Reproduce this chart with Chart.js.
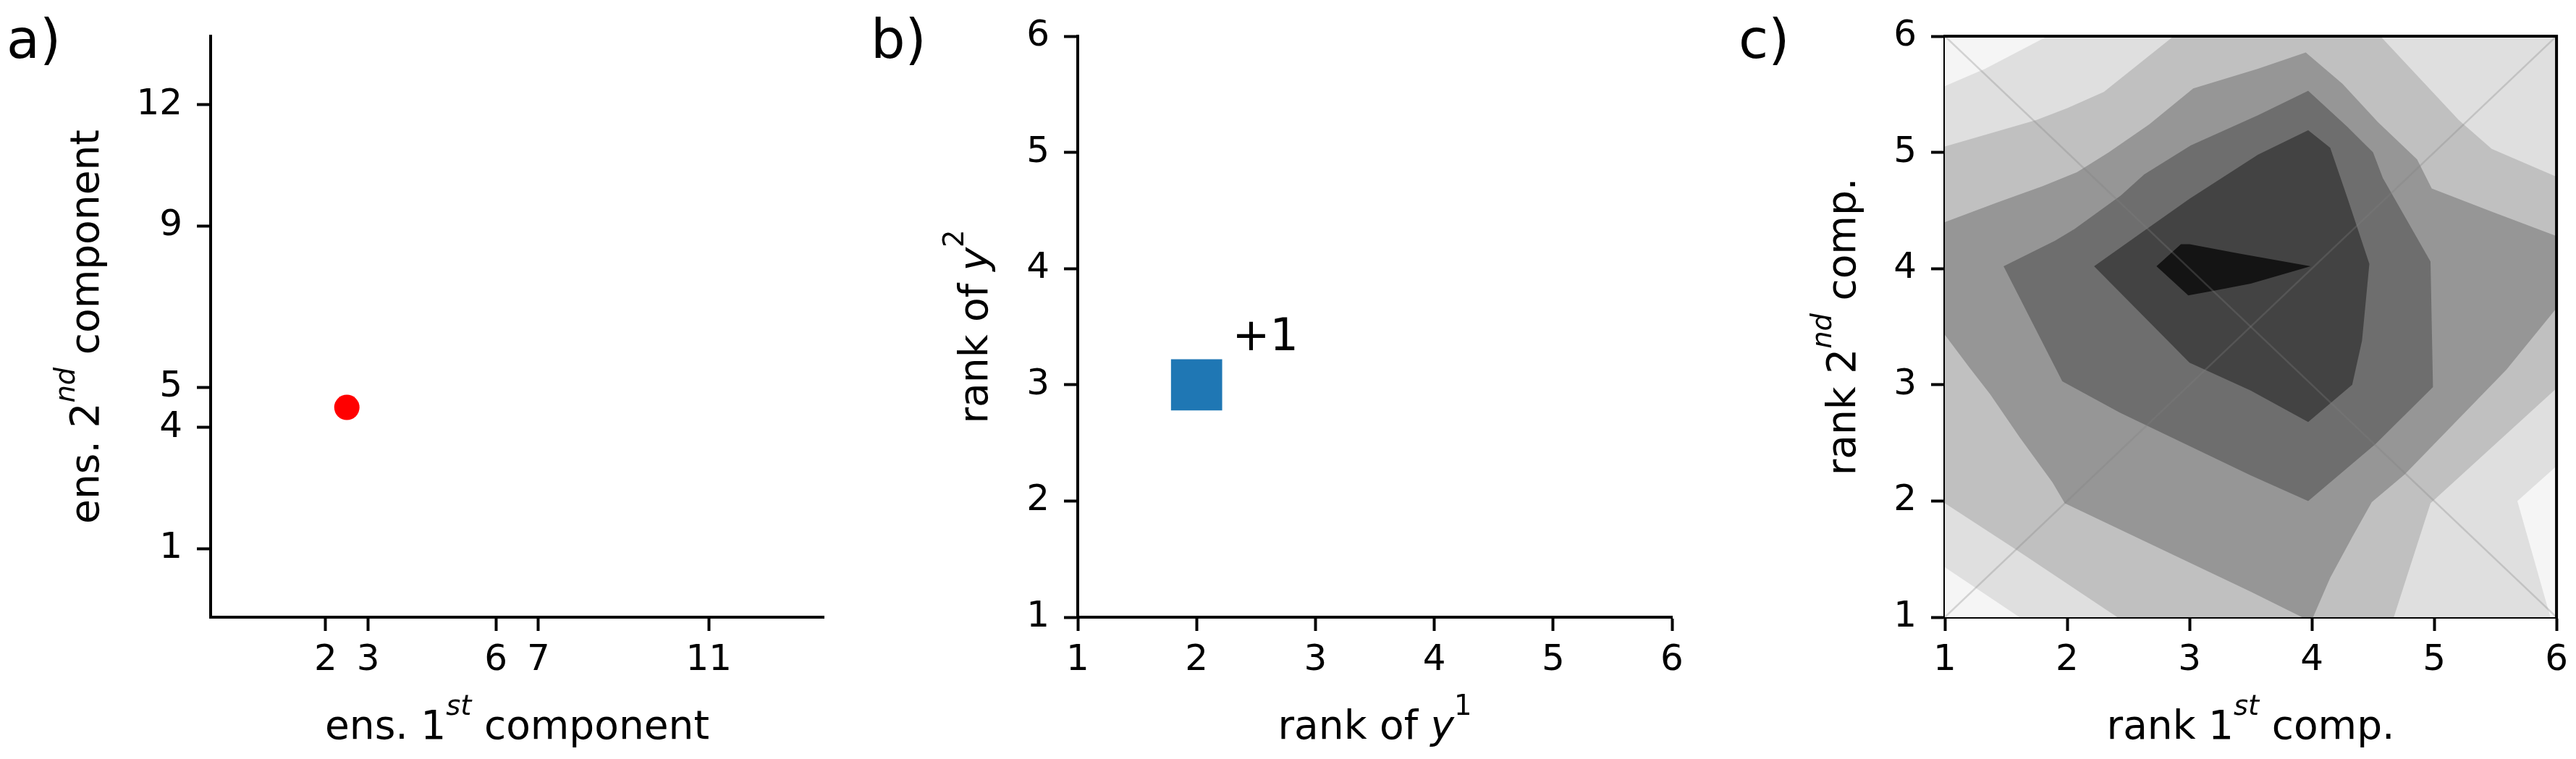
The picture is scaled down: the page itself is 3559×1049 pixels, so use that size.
<!DOCTYPE html>
<html>
<head>
<meta charset="utf-8">
<script src="https://cdn.jsdelivr.net/npm/chart.js@4.4.1/dist/chart.umd.min.js"></script>
<style>
  html, body { margin: 0; padding: 0; background: #fff; }
  #wrap { position: relative; width: 3559px; height: 1049px; overflow: hidden; }
  canvas { position: absolute; top: 0; }
</style>
</head>
<body>
<div id="wrap">
  <canvas id="chartA" width="1180" height="1049" style="left:0px"></canvas>
  <canvas id="chartB" width="1180" height="1049" style="left:1180px"></canvas>
  <canvas id="chartC" width="1199" height="1049" style="left:2360px"></canvas>
</div>
<script>
// panel a) ensemble member in the raw space
const ensTicksX = [2, 3, 6, 7, 11];
const ensTicksY = [1, 4, 5, 9, 12];
const ensPointX = [2.5];
const ensPointY = [4.5];

// panel b) rank of the observation
const rankTicks = [1, 2, 3, 4, 5, 6];
const rankX = [2];
const rankY = [3];
const rankCount = ["+1"];
const rankCountX = [2.3];
const rankCountY = [3.3];

// panel c) filled contours, each level = region above the threshold (outer first)
const level0 = [[1, 1], [6, 1], [6, 6], [1, 6]];
const level1 = [[1.84, 6], [6, 6], [6, 2.3], [5.68, 2.0], [5.95, 1], [1.61, 1], [1, 1.43], [1, 5.57], [1.33, 5.72]];
const level2 = [[2.87, 6], [4.56, 6], [5.2, 5.28], [5.47, 5.03], [6, 4.79], [6, 2.97], [4.97, 1.98], [4.67, 1],
                [2.41, 1], [1.57, 1.59], [1, 1.98], [1, 5.05], [1.75, 5.28], [2.0, 5.38], [2.3, 5.52]];
const level3 = [[1, 4.40], [1.43, 4.57], [1.80, 4.71], [2.08, 4.83], [2.34, 5.0], [2.67, 5.24], [3.03, 5.55], [3.56, 5.72],
                [3.95, 5.86], [4.25, 5.59], [4.54, 5.26], [4.86, 4.94], [4.98, 4.69], [5.47, 4.49], [6, 4.28], [6, 3.66],
                [5.59, 3.13], [4.76, 2.23], [4.49, 1.99], [4.33, 1.69], [4.15, 1.34], [4.01, 1], [3.92, 1], [3.5, 1.22],
                [1.98, 1.98], [1.88, 2.16], [1.61, 2.55], [1.37, 2.92], [1.2, 3.15], [1, 3.43]];
const level4 = [[1.48, 4.02], [1.90, 4.24], [2.06, 4.34], [2.44, 4.63], [2.63, 4.81], [3.01, 5.06], [3.56, 5.32], [3.97, 5.53],
                [4.29, 5.22], [4.50, 5.0], [4.58, 4.78], [4.97, 4.06], [4.99, 2.98], [4.52, 2.49], [3.97, 2.0], [3.5, 2.22],
                [2.43, 2.76], [1.96, 3.03]];
const level5 = [[2.22, 4.02], [2.65, 4.34], [3.0, 4.60], [3.56, 4.98], [3.97, 5.19], [4.15, 5.04], [4.29, 4.61], [4.47, 4.04],
                [4.41, 3.38], [4.33, 3.0], [3.97, 2.68], [3.5, 2.95], [3.0, 3.19]];
const level6 = [[2.73, 4.02], [2.93, 4.21], [3.0, 4.21], [3.40, 4.13], [3.99, 4.02], [3.5, 3.87], [3.2, 3.81], [2.99, 3.77]];
const diagX = [1, 6];
const diagUpY = [1, 6];
const diagDownY = [6, 1];

const levels = [level0, level1, level2, level3, level4, level5, level6];
const levelColors = ["#f5f5f5", "#dfdfdf", "#c0c0c0", "#969696", "#6e6e6e", "#434343", "#141414"];

const FONT = "'DejaVu Sans', sans-serif";
Chart.defaults.font.family = FONT;
Chart.defaults.color = "#000";

// axis with fixed ticks and a fixed box size so the plot areas line up
function makeScale(axis, min, max, tickValues, boxSize, onTop)
{
  return {
    type: "linear",
    position: axis === "x" ? "bottom" : "left",
    min: min,
    max: max,
    z: onTop ? 1 : 0,
    afterBuildTicks: s => { s.ticks = tickValues.map(v => ({ value: v })); },
    afterFit: s => { if (axis === "x") s.height = boxSize; else s.width = boxSize; },
    grid: { display: true, drawOnChartArea: false, drawTicks: true, tickLength: 19, tickWidth: 4, tickColor: "#000" },
    border: { display: true, color: "#000", width: 4 },
    ticks: { font: { family: FONT, size: 50 }, color: "#000", padding: axis === "x" ? 11 : 20,
             maxRotation: 0, autoSkip: false, callback: v => String(v) },
    title: { display: false }
  };
}

function toPoints(xs, ys)
{
  return xs.map((x, i) => ({ x: x, y: ys[i] }));
}

// text with superscripts / italics, centred on (cx, y)
function drawParts(ctx, parts, size, cx, y)
{
  const fontOf = p => (p.it ? "italic " : "") + (p.sup ? size * 0.7 : size) + "px " + FONT;
  let total = 0;
  parts.forEach(p => { ctx.font = fontOf(p); total += ctx.measureText(p.t).width; });
  let x = cx - total / 2;
  ctx.textAlign = "left";
  parts.forEach(p => {
    ctx.font = fontOf(p);
    ctx.fillText(p.t, x, p.sup ? y - size * 0.6 : y);
    x += ctx.measureText(p.t).width;
  });
}

const richText = {
  id: "richText",
  afterDraw(chart, args, o)
  {
    const ctx = chart.ctx;
    const a = chart.chartArea;
    ctx.save();
    ctx.fillStyle = "#000";
    ctx.textBaseline = "alphabetic";

    if (o.frame)
    {
      ctx.strokeStyle = "#000";
      ctx.lineWidth = 4;
      ctx.lineCap = "square";
      ctx.beginPath();
      ctx.moveTo(a.left, a.top);
      ctx.lineTo(a.right, a.top);
      ctx.lineTo(a.right, a.bottom);
      ctx.stroke();
    }

    drawParts(ctx, o.xTitle, 55, (a.left + a.right) / 2, o.xTitleY);

    ctx.save();
    ctx.translate(o.yTitleX, (a.top + a.bottom) / 2);
    ctx.rotate(-Math.PI / 2);
    drawParts(ctx, o.yTitle, 55, 0, 0);
    ctx.restore();

    ctx.font = "75px " + FONT;
    ctx.textAlign = "left";
    ctx.fillText(o.panel, o.panelX, 80);

    (o.notes || []).forEach(n => {
      ctx.font = "62px " + FONT;
      ctx.fillText(n.text, chart.scales.x.getPixelForValue(n.x), chart.scales.y.getPixelForValue(n.y));
    });
    ctx.restore();
  }
};

const baseOptions = {
  responsive: false,
  animation: false,
  devicePixelRatio: 1,
  events: []
};

// a)
new Chart(document.getElementById("chartA"),
{
  type: "scatter",
  data:
  {
    datasets: [
    {
      data: toPoints(ensPointX, ensPointY),
      pointRadius: 17.5,
      pointStyle: "circle",
      backgroundColor: "#ff0000",
      borderWidth: 0
    }]
  },
  options: Object.assign({}, baseOptions,
  {
    layout: { padding: { left: 0, top: 34, right: 42, bottom: 0 } },
    scales:
    {
      x: makeScale("x", -0.7, 13.7, ensTicksX, 196, false),
      y: makeScale("y", -0.7, 13.7, ensTicksY, 291, false)
    },
    plugins:
    {
      legend: { display: false },
      tooltip: { enabled: false },
      richText:
      {
        xTitle: [{ t: "ens. 1" }, { t: "st", sup: true, it: true }, { t: " component" }],
        yTitle: [{ t: "ens. 2" }, { t: "nd", sup: true, it: true }, { t: " component" }],
        xTitleY: 1021,
        yTitleX: 136,
        panel: "a)",
        panelX: 9
      }
    }
  }),
  plugins: [richText]
});

// b)
new Chart(document.getElementById("chartB"),
{
  type: "scatter",
  data:
  {
    datasets: [
    {
      data: toPoints(rankX, rankY),
      pointRadius: 50,
      pointStyle: "rect",
      backgroundColor: "#1f77b4",
      borderWidth: 0
    }]
  },
  options: Object.assign({}, baseOptions,
  {
    layout: { padding: { left: 0, top: 35, right: 25, bottom: 0 } },
    scales:
    {
      x: makeScale("x", 1, 6, rankTicks, 196, false),
      y: makeScale("y", 1, 6, rankTicks, 309, false)
    },
    plugins:
    {
      legend: { display: false },
      tooltip: { enabled: false },
      richText:
      {
        xTitle: [{ t: "rank of " }, { t: "y", it: true }, { t: "1", sup: true }],
        yTitle: [{ t: "rank of " }, { t: "y", it: true }, { t: "2", sup: true }],
        xTitleY: 1021,
        yTitleX: 184,
        panel: "b)",
        panelX: 23,
        notes: rankCount.map((t, i) => ({ text: t, x: rankCountX[i], y: rankCountY[i] }))
      }
    }
  }),
  plugins: [richText]
});

// c)
const contourSets = levels.map((poly, i) => (
{
  data: poly.map(p => ({ x: p[0], y: p[1] })),
  showLine: true,
  fill: "shape",
  backgroundColor: levelColors[i],
  borderColor: "rgba(0,0,0,0)",
  borderWidth: 0,
  pointRadius: 0,
  order: 20 - i
}));

const diagSets = [diagUpY, diagDownY].map(ys => (
{
  data: toPoints(diagX, ys),
  showLine: true,
  fill: false,
  borderColor: "rgba(128,128,128,0.3)",
  borderWidth: 2.5,
  pointRadius: 0,
  order: 1
}));

new Chart(document.getElementById("chartC"),
{
  type: "scatter",
  data: { datasets: contourSets.concat(diagSets) },
  options: Object.assign({}, baseOptions,
  {
    layout: { padding: { left: 0, top: 35, right: 26, bottom: 0 } },
    scales:
    {
      x: makeScale("x", 1, 6, rankTicks, 196, true),
      y: makeScale("y", 1, 6, rankTicks, 327, true)
    },
    plugins:
    {
      legend: { display: false },
      tooltip: { enabled: false },
      richText:
      {
        xTitle: [{ t: "rank 1" }, { t: "st", sup: true, it: true }, { t: " comp." }],
        yTitle: [{ t: "rank 2" }, { t: "nd", sup: true, it: true }, { t: " comp." }],
        xTitleY: 1021,
        yTitleX: 203,
        panel: "c)",
        panelX: 42,
        frame: true
      }
    }
  }),
  plugins: [richText]
});
</script>
</body>
</html>
